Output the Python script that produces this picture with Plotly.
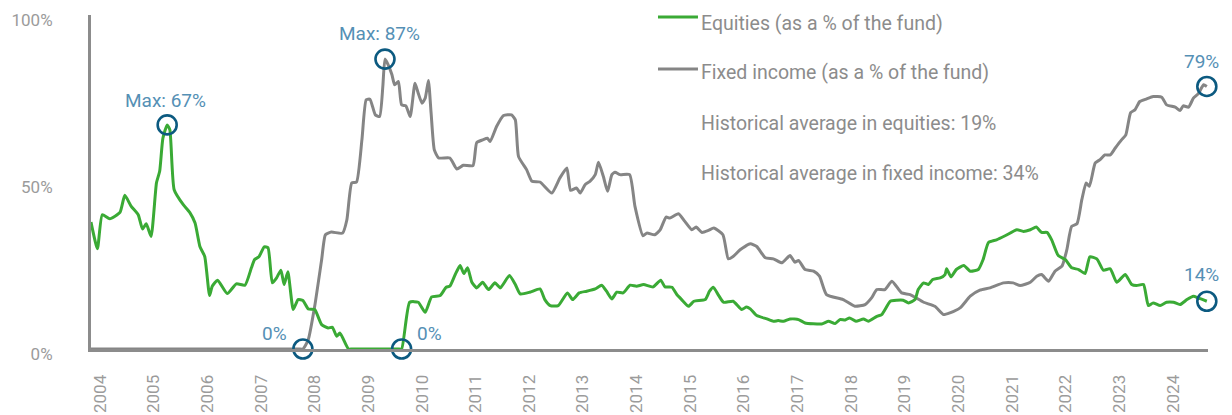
import plotly.graph_objects as go

# ---------------- data ----------------
years = list(range(2004, 2025))
year_labels = [str(y) for y in years]

equity_t = [2003.83, 2003.95, 2004.04, 2004.18, 2004.37, 2004.46, 2004.58, 2004.71, 2004.79, 2004.86,
            2004.95, 2005.05, 2005.11, 2005.17, 2005.25, 2005.30, 2005.38, 2005.55, 2005.67, 2005.77,
            2005.86, 2005.95, 2006.04, 2006.09, 2006.19, 2006.37, 2006.54, 2006.70, 2006.82, 2006.88,
            2006.96, 2007.06, 2007.13, 2007.21, 2007.29, 2007.37, 2007.43, 2007.50, 2007.60, 2007.69,
            2007.78, 2007.88, 2008.00, 2008.13, 2008.25, 2008.33, 2008.41, 2008.47, 2008.63, 2008.70,
            2009.55, 2009.62,
            2009.77, 2009.93, 2010.06, 2010.18, 2010.34, 2010.45, 2010.52, 2010.62, 2010.71, 2010.78,
            2010.85, 2010.93, 2011.02, 2011.13, 2011.24, 2011.36, 2011.46, 2011.63, 2011.74, 2011.83,
            2012.01, 2012.20, 2012.29, 2012.39, 2012.54, 2012.71, 2012.81, 2012.93, 2013.07, 2013.23,
            2013.35, 2013.44, 2013.54, 2013.63, 2013.75, 2013.88, 2014.00, 2014.13, 2014.31, 2014.45,
            2014.53, 2014.66, 2014.75, 2014.84, 2014.97, 2015.07, 2015.28, 2015.36, 2015.43, 2015.52,
            2015.62, 2015.80, 2015.96, 2016.05, 2016.12, 2016.24, 2016.43, 2016.55, 2016.64, 2016.74,
            2016.86, 2017.02, 2017.14, 2017.45, 2017.58, 2017.70, 2017.79, 2017.89, 2017.97, 2018.09,
            2018.23, 2018.32, 2018.48, 2018.57, 2018.73, 2018.85, 2018.97, 2019.07, 2019.19, 2019.25,
            2019.35, 2019.44, 2019.52, 2019.66, 2019.75, 2019.78, 2019.86, 2019.96, 2020.10, 2020.22,
            2020.37, 2020.46, 2020.56, 2020.71, 2020.87, 2021.09, 2021.21, 2021.34, 2021.45, 2021.55,
            2021.65, 2021.74, 2021.86, 2021.99, 2022.11, 2022.24, 2022.36, 2022.45, 2022.58, 2022.70,
            2022.83, 2022.95, 2023.11, 2023.23, 2023.32, 2023.45, 2023.54, 2023.63, 2023.76, 2023.88,
            2024.01, 2024.13, 2024.26, 2024.38, 2024.47, 2024.63]
equity_pct = [38.0, 30.0, 40.2, 39.0, 40.9, 46.0, 42.7, 40.2, 35.9, 37.5,
              33.7, 49.7, 53.2, 63.1, 67.1, 65.6, 47.7, 43.2, 40.9, 37.7,
              30.7, 27.7, 16.0, 18.8, 20.6, 16.6, 19.5, 19.1, 24.3, 26.8,
              27.6, 30.6, 30.3, 19.8, 21.3, 23.6, 19.3, 23.1, 11.8, 14.8,
              14.5, 12.0, 11.8, 7.3, 6.3, 6.5, 3.8, 4.8, 0.0, 0.0,
              0.0, 0.0,
              14.0, 14.0, 11.0, 15.6, 16.0, 18.5, 18.8, 22.3, 25.0, 22.6,
              24.3, 20.0, 18.3, 20.0, 17.8, 19.8, 18.3, 22.0, 19.3, 16.5,
              17.0, 18.0, 14.8, 13.0, 13.0, 16.8, 14.8, 16.8, 17.3, 18.0,
              19.1, 17.3, 15.0, 17.0, 16.8, 19.1, 18.8, 19.3, 18.6, 20.6,
              18.6, 18.5, 16.3, 14.8, 12.8, 14.3, 14.8, 17.3, 18.5, 16.3,
              14.0, 14.3, 11.8, 12.6, 12.0, 10.0, 9.0, 8.3, 8.5, 8.3,
              9.0, 8.8, 7.8, 7.5, 8.3, 7.6, 8.8, 8.7, 9.3, 8.3,
              9.0, 8.3, 9.8, 10.3, 14.3, 14.6, 14.6, 13.8, 14.8, 17.8,
              19.8, 19.3, 20.8, 21.3, 22.3, 24.0, 21.6, 23.8, 25.0, 23.3,
              23.8, 26.8, 31.9, 32.7, 33.9, 35.7, 35.2, 35.7, 36.5, 34.9,
              34.9, 32.6, 28.0, 26.8, 24.3, 23.8, 22.6, 27.6, 27.0, 23.6,
              24.0, 20.0, 22.3, 19.3, 19.0, 19.3, 13.0, 13.8, 13.0, 14.0,
              14.0, 13.3, 14.8, 15.8, 15.3, 14.3]

fixed_t = [2003.83, 2003.95, 2007.70, 2007.78, 2007.88, 2008.00, 2008.13, 2008.20, 2008.31, 2008.52, 2008.60, 2008.69,
           2008.78, 2008.88, 2008.96, 2009.03, 2009.13, 2009.21, 2009.27, 2009.31, 2009.37, 2009.44,
           2009.49, 2009.56, 2009.62, 2009.70, 2009.78, 2009.87, 2009.93, 2010.00, 2010.06, 2010.12,
           2010.17, 2010.23, 2010.31, 2010.52, 2010.65, 2010.77, 2010.95, 2011.02, 2011.13, 2011.22,
           2011.27, 2011.39, 2011.52, 2011.67, 2011.74, 2011.80, 2011.95, 2012.05, 2012.20, 2012.42,
           2012.57, 2012.70, 2012.77, 2012.88, 2012.95, 2013.04, 2013.13, 2013.23, 2013.29, 2013.38,
           2013.46, 2013.54, 2013.60, 2013.69, 2013.87, 2013.97, 2014.12, 2014.19, 2014.34, 2014.44,
           2014.55, 2014.62, 2014.78, 2014.90, 2015.03, 2015.11, 2015.22, 2015.34, 2015.44, 2015.61,
           2015.71, 2015.80, 2015.93, 2016.12, 2016.24, 2016.40, 2016.55, 2016.71, 2016.86, 2016.95,
           2017.02, 2017.14, 2017.30, 2017.41, 2017.54, 2017.85, 2018.07, 2018.26, 2018.38, 2018.48,
           2018.63, 2018.76, 2018.94, 2019.10, 2019.35, 2019.56, 2019.72, 2019.84, 2020.03, 2020.22,
           2020.40, 2020.59, 2020.84, 2021.02, 2021.15, 2021.34, 2021.46, 2021.55, 2021.68, 2021.80,
           2021.93, 2022.02, 2022.11, 2022.21, 2022.30, 2022.38, 2022.44, 2022.55, 2022.64, 2022.73,
           2022.83, 2022.92, 2023.04, 2023.12, 2023.21, 2023.29, 2023.38, 2023.51, 2023.63, 2023.79,
           2023.88, 2024.04, 2024.13, 2024.19, 2024.29, 2024.38, 2024.47, 2024.57, 2024.63]
fixed_pct = [0.0, 0.0, 0.0, 0.0, 2.8, 12.8, 26.8, 34.2, 35.0, 34.7, 38.7, 49.7,
             50.0, 62.6, 74.6, 74.8, 70.1, 69.6, 78.6, 86.8, 85.1, 82.1,
             79.1, 80.1, 73.1, 72.8, 69.6, 79.6, 76.6, 73.6, 75.1, 80.4,
             70.6, 59.6, 57.2, 57.2, 53.9, 55.0, 54.9, 61.8, 62.6, 63.1,
             62.1, 66.6, 69.9, 70.1, 68.6, 57.6, 53.7, 50.2, 50.0, 46.7,
             51.2, 54.2, 47.5, 48.2, 46.7, 49.2, 50.2, 52.2, 55.9, 51.7,
             47.2, 52.2, 52.9, 52.2, 52.2, 42.7, 33.9, 34.7, 34.2, 35.7,
             39.5, 39.2, 40.5, 38.2, 35.7, 36.5, 34.9, 35.5, 36.2, 34.2,
             27.0, 27.7, 29.7, 31.5, 30.7, 27.3, 27.0, 25.8, 28.0, 26.0,
             26.5, 23.8, 23.3, 21.8, 16.3, 14.8, 12.8, 13.3, 15.3, 17.8,
             17.8, 20.3, 16.8, 16.3, 14.0, 12.8, 10.3, 10.8, 12.3, 15.8,
             17.6, 18.3, 19.8, 19.8, 19.0, 20.0, 21.8, 22.3, 20.3, 23.3,
             24.8, 29.7, 36.7, 37.5, 44.7, 49.7, 48.7, 55.7, 56.7, 58.1,
             58.1, 60.1, 62.6, 64.1, 70.8, 71.6, 74.1, 74.9, 75.6, 75.4,
             73.1, 72.4, 71.4, 72.8, 72.4, 75.1, 76.4, 79.1, 78.6]

avg_equities = 19
avg_fixed = 34

series_names = ["Equities (as a % of the fund)", "Fixed income (as a % of the fund)"]

# ---------------- styles ----------------
GREEN = "#3aaa35"
GREY = "#858585"
AXIS = "#8c8c8c"
TICK = "#9b9b9b"
LABEL = "#5590b5"
RING = "#0c5a80"
TEXT = "#8c8c8c"
FONT = "Roboto, 'Open Sans', sans-serif"

fig = go.Figure()
fig.add_trace(go.Scatter(x=fixed_t, y=fixed_pct, mode="lines", name=series_names[1],
                         line=dict(color=GREY, width=3, shape="spline", smoothing=0.5),
                         hoverinfo="skip", showlegend=False))
fig.add_trace(go.Scatter(x=equity_t, y=equity_pct, mode="lines", name=series_names[0],
                         line=dict(color=GREEN, width=3, shape="spline", smoothing=0.5),
                         hoverinfo="skip", showlegend=False))

# highlighted points derived from the data
i_emax = equity_pct.index(max(equity_pct))
i_fmax = fixed_pct.index(max(fixed_pct))
i_fzero = max(i for i, v in enumerate(fixed_pct) if v == 0)
i_ezero = max(i for i, v in enumerate(equity_pct) if v == 0)

pts = [
    (equity_t[i_emax], equity_pct[i_emax], f"Max: {round(equity_pct[i_emax])}%", -2, 24),
    (fixed_t[i_fmax], fixed_pct[i_fmax], f"Max: {round(fixed_pct[i_fmax])}%", -5, 26),
    (fixed_t[i_fzero], fixed_pct[i_fzero], f"{round(fixed_pct[i_fzero])}%", -28, 16),
    (equity_t[i_ezero], equity_pct[i_ezero], f"{round(equity_pct[i_ezero])}%", 28, 16),
    (fixed_t[-1], fixed_pct[-1], f"{round(fixed_pct[-1])}%", -5, 25),
    (equity_t[-1], equity_pct[-1], f"{round(equity_pct[-1])}%", -5, 27),
]

fig.add_trace(go.Scatter(x=[p[0] for p in pts], y=[p[1] for p in pts], mode="markers",
                         marker=dict(symbol="circle-open", size=19, color=RING,
                                     line=dict(width=2.6, color=RING)),
                         cliponaxis=False, hoverinfo="skip", showlegend=False))

annotations = []
for x, y, txt, dx, dy in pts:
    annotations.append(dict(x=x, y=y, xref="x", yref="y", text=txt, showarrow=False,
                            xshift=dx, yshift=dy, xanchor="center", yanchor="middle",
                            font=dict(family=FONT, size=19, color=LABEL)))

# custom legend
legend_rows = [
    (series_names[0], GREEN, 0.994, 0.976),
    (series_names[1], GREY, 0.8386, 0.8266),
    (f"Historical average in equities: {avg_equities}%", None, None, 0.6741),
    (f"Historical average in fixed income: {avg_fixed}%", None, None, 0.5247),
]
shapes = []
for txt, col, ly, ty in legend_rows:
    if col is not None:
        shapes.append(dict(type="line", xref="paper", yref="paper", x0=0.5076, x1=0.5434,
                           y0=ly, y1=ly, line=dict(color=col, width=3)))
    annotations.append(dict(x=0.5445, y=ty, xref="paper", yref="paper", text=txt,
                            showarrow=False, xanchor="left", yanchor="middle",
                            font=dict(family=FONT, size=19.5, color=TEXT)))

fig.update_layout(
    width=1232, height=415,
    margin=dict(l=91, r=24, t=15, b=65.5, pad=0, autoexpand=False),
    plot_bgcolor="white", paper_bgcolor="white",
    showlegend=False,
    font=dict(family=FONT, size=17, color=TICK),
    annotations=annotations, shapes=shapes,
    xaxis=dict(range=[2003.83, 2024.652], tickmode="array", tickvals=years, ticktext=year_labels,
               tickangle=-90, showgrid=False, zeroline=False, showline=True, linecolor=AXIS,
               linewidth=3, ticks="", ticklabelstandoff=16, automargin=False,
               ticklabeloverflow="allow",
               tickfont=dict(family=FONT, size=17, color=TICK)),
    yaxis=dict(range=[0, 100], tickmode="array", tickvals=[0, 50, 100],
               ticktext=["0%", "50%", "100%"], showgrid=False, zeroline=False, showline=True,
               linecolor=AXIS, linewidth=3, ticks="", ticklabelstandoff=32, ticklabelshift=5,
               automargin=False, ticklabeloverflow="allow",
               tickfont=dict(family=FONT, size=17, color=TICK)),
)

fig.write_html("out.html", config={"displayModeBar": False},
               post_script="document.body.style.margin='0';document.body.style.overflow='hidden';")
